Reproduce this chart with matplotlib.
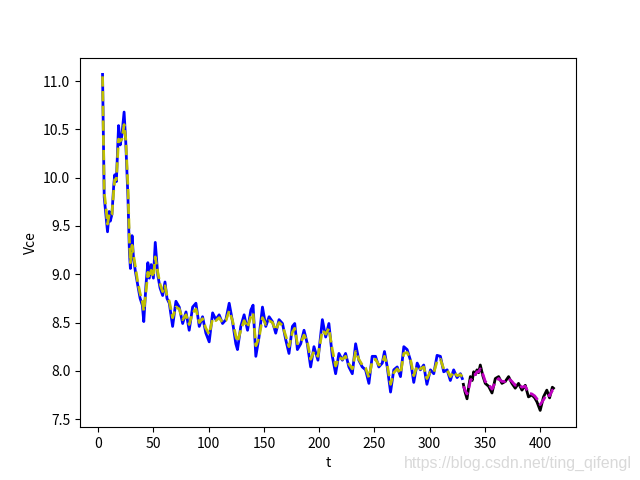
import matplotlib
matplotlib.use('Agg')
import matplotlib.pyplot as plt

plt.rcParams['font.family'] = ['Noto Sans CJK SC', 'DejaVu Sans']

# measured Vce (train part)
t_train = [4, 5.5, 7, 8.5, 10, 11, 12.5, 14, 15, 16.5, 18.5, 20, 21.5, 23.5, 25, 27, 28.3, 29.2,
           30.7, 32, 33.7, 35.8, 38, 40, 41.3, 43.3, 45, 46.3, 48, 50, 51.7, 54, 56, 58.4,
           60.5, 62.3, 64.4, 67.4, 70.4, 73.4, 76.5, 79.5, 82.4, 85.5, 88.5, 91.5, 94.5, 97.5,
           100.5, 103.6, 106.5, 109.5, 112.6, 115.6, 118.6, 121.6, 124.6, 126.1, 129.1, 132.1,
           135.2, 138.2, 140.2, 142.7, 145.6, 148.7, 151.7, 154.7, 157.7, 160.7, 163.7, 166.8,
           169.8, 172.7, 175.8, 177.9, 180.3, 183.3, 186.3, 189.3, 192.3, 195.3, 198.9, 202.9,
           205.9, 208.8, 211.9, 214.9, 217.9, 221, 223.9, 226.9, 230, 233, 235.9, 239, 242, 245,
           248, 251, 254, 257.1, 259.1, 261.6, 264.6, 267.5, 270.6, 273.6, 276.6, 279.6, 282.6,
           285.6, 288.7, 291.6, 294.6, 297.5, 300.7, 303.7, 306.7, 309.7, 312.7, 315.8, 318.7,
           321.7, 324.8, 327.8, 329.5]
v_train = [11.07, 9.80, 9.62, 9.44, 9.65, 9.55, 9.62, 9.90, 10.03, 9.96, 10.54, 10.34, 10.44, 10.68,
           10.37, 9.79, 9.23, 9.06, 9.40, 9.17, 9.03, 8.89, 8.75, 8.68, 8.51, 8.89, 9.12, 8.96,
           9.10, 8.96, 9.33, 8.99, 8.86, 8.78, 8.92, 8.75, 8.70, 8.46, 8.72, 8.66, 8.49, 8.61,
           8.42, 8.66, 8.70, 8.46, 8.56, 8.39, 8.30, 8.60, 8.53, 8.58, 8.49, 8.53, 8.70, 8.51,
           8.28, 8.22, 8.46, 8.58, 8.42, 8.63, 8.68, 8.15, 8.35, 8.66, 8.46, 8.56, 8.51, 8.39,
           8.53, 8.49, 8.32, 8.18, 8.46, 8.49, 8.22, 8.28, 8.42, 8.28, 8.04, 8.25, 8.11, 8.53,
           8.35, 8.49, 8.15, 7.97, 8.18, 8.11, 8.18, 8.04, 7.97, 8.28, 8.11, 8.04, 8.01, 7.87,
           8.15, 8.15, 8.04, 8.08, 8.20, 8.04, 7.78, 8.01, 8.04, 7.94, 8.25, 8.22, 8.11, 7.88,
           8.08, 8.01, 8.06, 7.86, 8.01, 7.97, 8.16, 8.15, 7.99, 8.01, 7.90, 8.01, 7.93, 7.97,
           7.92]
# fitted values on train part
f_train = [11.05, 9.85, 9.70, 9.52, 9.62, 9.60, 9.62, 9.85, 9.98, 9.98, 10.40, 10.38, 10.40, 10.55,
           10.40, 9.90, 9.35, 9.12, 9.30, 9.20, 9.08, 8.92, 8.80, 8.72, 8.62, 8.82, 9.02, 8.96,
           9.04, 8.97, 9.18, 9.02, 8.90, 8.82, 8.88, 8.78, 8.72, 8.55, 8.66, 8.64, 8.53, 8.58,
           8.48, 8.60, 8.64, 8.50, 8.54, 8.44, 8.38, 8.54, 8.52, 8.55, 8.50, 8.52, 8.62, 8.52,
           8.36, 8.30, 8.42, 8.52, 8.45, 8.56, 8.60, 8.26, 8.34, 8.55, 8.48, 8.52, 8.50, 8.42,
           8.50, 8.47, 8.36, 8.25, 8.40, 8.44, 8.28, 8.29, 8.37, 8.30, 8.12, 8.20, 8.15, 8.42,
           8.38, 8.44, 8.22, 8.05, 8.14, 8.12, 8.15, 8.07, 8.02, 8.20, 8.12, 8.06, 8.03, 7.93,
           8.10, 8.12, 8.06, 8.08, 8.15, 8.06, 7.86, 7.98, 8.02, 7.97, 8.18, 8.19, 8.12, 7.95,
           8.05, 8.02, 8.04, 7.92, 7.99, 7.98, 8.10, 8.12, 8.02, 8.01, 7.94, 7.99, 7.95, 7.96,
           7.94]

# measured Vce (test part)
t_test = [330.5, 332, 333.8, 335.5, 336.8, 338.5, 339.8, 341.3, 342.8, 344.3, 345.8, 348.3, 350.3,
          353.3, 356.4, 359.4, 362.4, 365.4, 368.4, 371.4, 374.4, 377.4, 380.4, 383.5, 386.5,
          389.4, 392.5, 395, 397, 400, 403, 406, 408.5, 411, 412]
v_test = [7.86, 7.78, 7.71, 7.85, 7.94, 7.90, 7.99, 7.96, 8.01, 7.98, 8.06, 7.94, 7.87, 7.84, 7.77,
          7.92, 7.94, 7.87, 7.89, 7.94, 7.87, 7.82, 7.87, 7.80, 7.85, 7.73, 7.75, 7.72, 7.68,
          7.59, 7.73, 7.80, 7.72, 7.83, 7.82]
# predicted values on test part
f_test = [7.84, 7.80, 7.76, 7.82, 7.90, 7.92, 7.96, 7.96, 7.99, 7.99, 8.02, 7.96, 7.89, 7.86, 7.81,
          7.88, 7.92, 7.89, 7.89, 7.92, 7.89, 7.85, 7.86, 7.83, 7.84, 7.77, 7.76, 7.74, 7.71,
          7.65, 7.70, 7.76, 7.74, 7.80, 7.80]

fig = plt.figure(figsize=(6.4, 4.8), dpi=100)
plt.plot(t_train, v_train, 'b', lw=2)
plt.plot(t_train, f_train, 'y--', lw=2)
plt.plot(t_test, v_test, 'k', lw=2)
plt.plot(t_test, f_test, 'm--', lw=2)
plt.xlabel('t')
plt.ylabel('Vce')

fig.text(632 / 640, 12 / 480, 'https://blog.csdn.net/ting_qifengl', ha='right', va='baseline',
         color='#d9d9d9', fontsize=11.4, family=['Liberation Sans', 'DejaVu Sans'])

plt.savefig('out.png')
